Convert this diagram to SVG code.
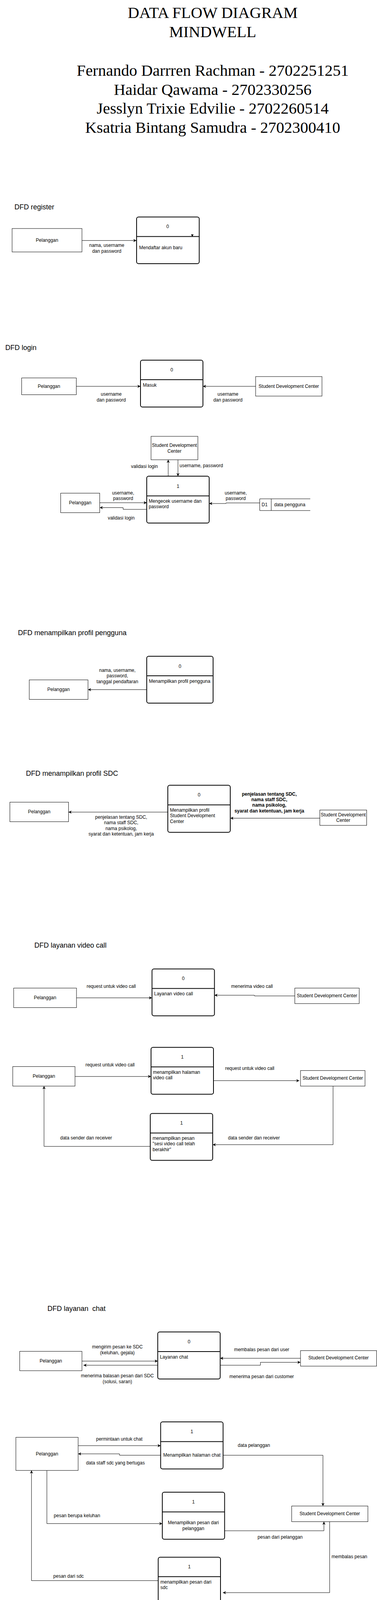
<svg xmlns="http://www.w3.org/2000/svg" width="966" height="5922" viewBox="0 0 966 5922">
<style>
text{font-family:"Liberation Sans",Arial,Helvetica,sans-serif;font-size:12px;fill:#000}
.c{text-anchor:middle}
.b{font-weight:bold}
.ttl{font-size:18px}
.hd{font-family:"Liberation Serif","Times New Roman",serif;font-size:41px;text-anchor:middle}
.ent{fill:#fff;stroke:#000;stroke-width:1}
.proc{fill:#fff;stroke:#000;stroke-width:2}
.dv{stroke:#000;stroke-width:2;fill:none}
.st{fill:none;stroke:#000;stroke-width:1}
.ln{fill:none;stroke:#000;stroke-width:1;marker-end:url(#ah)}
.lnb{fill:none;stroke:#000;stroke-width:1.6;marker-end:url(#ah)}
</style>
<defs>
<marker id="ah" viewBox="0 0 10 10" refX="10" refY="5" markerWidth="8" markerHeight="8" markerUnits="userSpaceOnUse" orient="auto">
<path d="M0,0 L10,5 L0,10 L3,5 z" fill="#000"/>
</marker>
</defs>
<rect width="966" height="5922" fill="#fff"/>

<g id="header">
<text class="hd" x="545" y="46">DATA FLOW DIAGRAM</text>
<text class="hd" x="545" y="95">MINDWELL</text>
<text class="hd" x="545" y="194">Fernando Darrren Rachman - 2702251251</text>
<text class="hd" x="545" y="243">Haidar Qawama - 2702330256</text>
<text class="hd" x="545" y="291">Jesslyn Trixie Edvilie - 2702260514</text>
<text class="hd" x="545" y="340">Ksatria Bintang Samudra - 2702300410</text>
</g>

<g id="titles">
<text class="ttl" x="37" y="536">DFD register</text>
<text class="ttl" x="13.5" y="896">DFD login</text>
<text class="ttl" x="46" y="1625.5">DFD menampilkan profil pengguna</text>
<text class="ttl" x="66.5" y="1985.7">DFD menampilkan profil SDC</text>
<text class="ttl" x="88" y="2426">DFD layanan video call</text>
<text class="ttl" x="121.4" y="3355.8" xml:space="preserve">DFD layanan  chat</text>
<text class="ttl" x="67" y="4480">DFD mencatat perasaan harian</text>
<text class="ttl" x="29" y="4779.5">DFD menampilkan grafik perasaan harian</text>
<text class="ttl" x="84.4" y="5089.7">DFD mencatat jam tidur harian</text>
<text class="ttl" x="24.6" y="5466.3">DFD menampilkan grafik jam tidur harian</text>
<text class="ttl" x="46.2" y="5772">DFD meditasi</text>
</g>

<!-- register -->
<g id="reg-pelanggan"><rect class="ent" x="31" y="585" width="179" height="60"/><text class="c" x="120.5" y="619">Pelanggan</text></g>
<g id="reg-proc0"><rect class="proc" x="350" y="555.5" width="160.5" height="119.5" rx="5"/><line class="dv" x1="350" y1="605.5" x2="510.5" y2="605.5"/><text class="c" x="429.5" y="584">0</text><text x="356.5" y="638">Mendaftar akun baru</text><path d="M489.5,600 L496,600 L492.7,606 z" fill="#000"/></g>

<!-- login -->
<g id="login-pelanggan"><rect class="ent" x="55.5" y="967.5" width="140" height="43"/><text class="c" x="125.5" y="993">Pelanggan</text></g>
<g id="login-proc0"><rect class="proc" x="360" y="922" width="160" height="120" rx="5"/><line class="dv" x1="360" y1="972" x2="520" y2="972"/><text class="c" x="440" y="951">0</text><text x="366" y="990">Masuk</text></g>
<g id="login-sdc"><rect class="ent" x="655" y="964" width="170" height="50"/><text class="c" x="740" y="993">Student Development Center</text></g>
<g id="login1-sdc"><rect class="ent" x="387" y="1117" width="120" height="60"/><text class="c" x="447" y="1144">Student Development</text><text class="c" x="447" y="1158.5">Center</text></g>
<g id="login1-proc1"><rect class="proc" x="376" y="1219" width="160" height="120" rx="5"/><line class="dv" x1="376" y1="1269.5" x2="536" y2="1269.5"/><text class="c" x="456" y="1249">1</text><text x="381" y="1286.5">Mengecek username dan</text><text x="381" y="1301">password</text></g>
<g id="login1-pelanggan"><rect class="ent" x="155.5" y="1262.5" width="100" height="50"/><text class="c" x="205.5" y="1290.5">Pelanggan</text></g>
<g id="login1-d1"><path class="st" d="M795,1277 L665.5,1277 L665.5,1307 L795,1307 M695,1277 L695,1307"/><text class="c" x="678" y="1295.5">D1</text><text x="702.4" y="1295.5">data pengguna</text></g>

<!-- profil pengguna -->
<g id="pp-proc0"><rect class="proc" x="376" y="1680" width="170" height="120" rx="5"/><line class="dv" x1="376" y1="1730" x2="546" y2="1730"/><text class="c" x="461" y="1709.5">0</text><text x="381.5" y="1748">Menampilkan profil pengguna</text></g>
<g id="pp-pelanggan"><rect class="ent" x="75" y="1740.5" width="150.5" height="50"/><text class="c" x="150" y="1768.7">Pelanggan</text></g>

<!-- profil SDC -->
<g id="ps-proc0"><rect class="proc" x="430" y="2010.3" width="160" height="120.5" rx="5"/><line class="dv" x1="430" y1="2060.5" x2="590" y2="2060.5"/><text class="c" x="510" y="2039">0</text><text x="435.6" y="2077.7">Menampilkan profil</text><text x="435.6" y="2092">Student Development</text><text x="435.6" y="2106.7">Center</text></g>
<g id="ps-pelanggan"><rect class="ent" x="25.3" y="2053.6" width="150.3" height="50"/><text class="c" x="100.5" y="2082">Pelanggan</text></g>
<g id="ps-sdc"><rect class="ent" x="819.5" y="2073.7" width="120" height="39.3"/><text class="c" x="879.5" y="2089.7">Student Development</text><text class="c" x="879.5" y="2104.4">Center</text></g>

<!-- video call -->
<g id="vc-proc0"><rect class="proc" x="389.5" y="2480.4" width="160" height="120" rx="5"/><line class="dv" x1="389.5" y1="2530.4" x2="549.5" y2="2530.4"/><text class="c" x="469.5" y="2509.4">0</text><text x="395" y="2547.8">Layanan video call</text></g>
<g id="vc-pelanggan"><rect class="ent" x="35" y="2529.5" width="161" height="50"/><text class="c" x="115.5" y="2558">Pelanggan</text></g>
<g id="vc-sdc"><rect class="ent" x="755.4" y="2529.5" width="165" height="39.7"/><text class="c" x="838" y="2552.7">Student Development Center</text></g>
<g id="vc1-proc1"><rect class="proc" x="387" y="2681.3" width="160" height="120" rx="5"/><line class="dv" x1="387" y1="2731.3" x2="547" y2="2731.3"/><text class="c" x="467" y="2710">1</text><text x="392" y="2749">menampilkan halaman</text><text x="392" y="2763">video call</text></g>
<g id="vc1-pelanggan"><rect class="ent" x="32.7" y="2730.4" width="159.5" height="50"/><text class="c" x="112.5" y="2759">Pelanggan</text></g>
<g id="vc1-sdc"><rect class="ent" x="770" y="2740.6" width="165.3" height="39.8"/><text class="c" x="852.7" y="2763.8">Student Development Center</text></g>
<g id="vc1-proc1b"><rect class="proc" x="385" y="2850.4" width="160" height="120" rx="5"/><line class="dv" x1="385" y1="2900.4" x2="545" y2="2900.4"/><text class="c" x="465" y="2879">1</text><text x="391" y="2918.3">menampilkan pesan</text><text x="391" y="2932">"sesi video call telah</text><text x="391" y="2946.9">berakhir"</text></g>

<!-- chat -->
<g id="ch-proc0"><rect class="proc" x="404.2" y="3409.8" width="160" height="120.5" rx="5"/><line class="dv" x1="404.2" y1="3460" x2="564.2" y2="3460"/><text class="c" x="484.3" y="3438.8">0</text><text x="409.7" y="3478">Layanan chat</text></g>
<g id="ch-pelanggan"><rect class="ent" x="50.5" y="3459.4" width="159.5" height="49.6"/><text class="c" x="130.3" y="3487.5">Pelanggan</text></g>
<g id="ch-sdc"><rect class="ent" x="770" y="3457.6" width="195" height="39.7"/><text class="c" x="867.5" y="3480.3">Student Development Center</text></g>
<g id="ch1-proc1a"><rect class="proc" x="411.6" y="3640" width="160" height="120.5" rx="5"/><line class="dv" x1="411.6" y1="3690.5" x2="571.6" y2="3690.5"/><text class="c" x="491.6" y="3669.2">1</text><text class="c" x="491.6" y="3728.6">Menampilkan halaman chat</text></g>
<g id="ch1-pelanggan"><rect class="ent" x="40.7" y="3679.5" width="159.5" height="84.8"/><text class="c" x="120.5" y="3726">Pelanggan</text></g>
<g id="ch1-sdc"><rect class="ent" x="747.4" y="3855.4" width="195.3" height="40.1"/><text class="c" x="845" y="3879">Student Development Center</text></g>
<g id="ch1-proc1b"><rect class="proc" x="415.9" y="3820" width="159.6" height="120.6" rx="5"/><line class="dv" x1="415.9" y1="3870.5" x2="575.5" y2="3870.5"/><text class="c" x="495.7" y="3849">1</text><text class="c" x="495.4" y="3901.8">Menampilkan pesan dari</text><text class="c" x="495.4" y="3917">pelanggan</text></g>
<g id="ch1-proc1c"><rect class="proc" x="405.4" y="3986.6" width="159.6" height="120.1" rx="5"/><line class="dv" x1="405.4" y1="4036.2" x2="565" y2="4036.2"/><text class="c" x="485.2" y="4015.2">1</text><text x="411" y="4054">menampilkan pesan dari</text><text x="411" y="4067.8">sdc</text></g>

<!-- mencatat perasaan -->
<g id="mp-proc0"><rect class="proc" x="430" y="4513.8" width="160.3" height="120.6" rx="5"/><line class="dv" x1="430" y1="4564.3" x2="590.3" y2="4564.3"/><text class="c" x="510" y="4543.3">0</text><text x="435.6" y="4582">Mencatat perasaan harian</text></g>
<g id="mp-pelanggan"><rect class="ent" x="25.3" y="4556.25" width="160.2" height="50"/><text class="c" x="105.4" y="4584.8">Pelanggan</text></g>
<g id="mp-d2"><path class="st" d="M943,4559.4 L788.7,4559.4 L788.7,4589.3 L943,4589.3 M818.2,4559.4 L818.2,4589.3"/><text class="c" x="801" y="4578">D2</text><text x="825" y="4578">mood tracker</text></g>

<!-- grafik perasaan -->
<g id="gp-proc0"><rect class="proc" x="385.7" y="4804.5" width="160.2" height="120" rx="5"/><line class="dv" x1="385.7" y1="4854.5" x2="545.9" y2="4854.5"/><text class="c" x="465.8" y="4833.5">0</text><text x="391" y="4872.3">Menampilkan grafik</text><text x="391" y="4886">kesehatan mental</text></g>
<g id="gp-pelanggan"><rect class="ent" x="40.7" y="4854.5" width="159.5" height="50"/><text class="c" x="120.5" y="4883">Pelanggan</text></g>

<!-- jam tidur -->
<g id="jt-proc0"><rect class="proc" x="375.8" y="5143.75" width="159.6" height="120.95" rx="5"/><line class="dv" x1="375.8" y1="5194.2" x2="535.4" y2="5194.2"/><text class="c" x="455.6" y="5173.2">0</text><text x="381.4" y="5212">Mencatat jam tidur harian</text></g>
<g id="jt-pelanggan"><rect class="ent" x="25.3" y="5204.5" width="160.2" height="49.1"/><text class="c" x="105.4" y="5231.7">Pelanggan</text></g>
<g id="jt-d3"><path class="st" d="M839.8,5213.4 L690.7,5213.4 L690.7,5243.3 L839.8,5243.3 M720.9,5213.4 L720.9,5243.3"/><text class="c" x="703.5" y="5232">D3</text><text x="727" y="5232">sleep tracker</text></g>

<!-- grafik jam tidur -->
<g id="gj-proc0"><rect class="proc" x="340.7" y="5493.9" width="159.6" height="121" rx="5"/><line class="dv" x1="340.7" y1="5543.9" x2="500.3" y2="5543.9"/><text class="c" x="420.5" y="5522.9">0</text><text class="c" x="398.6" y="5561.7">Menampilkan grafik</text><text class="c" x="398.6" y="5576">jam tidur</text></g>
<g id="gj-pelanggan"><rect class="ent" x="10.5" y="5544.3" width="144.8" height="50"/><text class="c" x="82.9" y="5572.9">Pelanggan</text></g>

<!-- meditasi -->
<g id="md-pelanggan"><rect class="ent" x="30.8" y="5836.3" width="159.6" height="50"/><text class="c" x="110.6" y="5864.8">Pelanggan</text></g>
<g id="md-proc0a"><rect class="proc" x="370.3" y="5801" width="160.2" height="119.5" rx="5"/><line class="dv" x1="370.3" y1="5851.5" x2="530.5" y2="5851.5"/><text class="c" x="450.4" y="5830">0</text><text x="376.5" y="5868.9">Pilih jenis meditasi</text><text x="376.5" y="5882.7">untuk perasaan hari ini</text></g>
<g id="md-proc0b"><rect class="proc" x="720.9" y="5801" width="159.6" height="119.5" rx="5"/><line class="dv" x1="720.9" y1="5851.5" x2="880.5" y2="5851.5"/><text class="c" x="800.7" y="5830">0</text><text x="725.8" y="5868.9">Menampilkan saran meditasi</text><text x="725.8" y="5882.7">sesuai jenis perasaan</text></g>

<g id="connectors">
<!-- register -->
<path class="ln" d="M210,615.7 L349.5,615.7"/>
<text class="c" x="273.5" y="632.3">nama, username</text><text class="c" x="273.5" y="647.3">dan password</text>
<!-- login -->
<path class="ln" d="M195.5,989 L360,989"/>
<text class="c" x="285" y="1013">username</text><text class="c" x="285" y="1028">dan password</text>
<path class="ln" d="M655,989 L520,989"/>
<text class="c" x="584" y="1013">username</text><text class="c" x="584" y="1028">dan password</text>
<path class="ln" d="M431,1219 L431,1177"/>
<text class="c" x="370" y="1198">validasi login</text>
<path class="ln" d="M456,1177 L456,1219"/>
<text x="460" y="1195.5">username, password</text>
<path class="ln" d="M255.5,1287 L376,1287"/>
<text class="c" x="315.5" y="1265.6">username,</text><text class="c" x="315.5" y="1280.3">password</text>
<path class="ln" d="M376,1304 L315.5,1304 L315.5,1299.5 L255.5,1299.5"/>
<text class="c" x="310.5" y="1330">validasi login</text>
<path class="ln" d="M665.5,1287.5 L579,1287.5 L579,1289 L536,1289"/>
<text class="c" x="604" y="1265.6">username,</text><text class="c" x="604" y="1280.3">password</text>
<!-- profil pengguna -->
<path class="ln" d="M376,1765.5 L225.5,1765.5"/>
<text class="c" x="300.7" y="1720">nama, username,</text><text class="c" x="300.7" y="1734.4">password,</text><text class="c" x="300.7" y="1748.6">tanggal pendaftaran</text>
<!-- profil SDC -->
<path class="ln" d="M430,2079 L175.6,2079"/>
<text class="c" x="310.5" y="2096">penjelasan tentang SDC,</text><text class="c" x="310.5" y="2109.8">nama staff SDC,</text><text class="c" x="310.5" y="2125">nama psikolog,</text><text class="c" x="310.5" y="2138.8">syarat dan ketentuan, jam kerja</text>
<path class="ln" d="M819.5,2094.6 L590.3,2094.6"/>
<text class="c b" x="690" y="2036.6">penjelasan tentang SDC,</text><text class="c b" x="690" y="2050.9">nama staff SDC,</text><text class="c b" x="690" y="2065.2">nama psikolog,</text><text class="c b" x="690" y="2079.9">syarat dan ketentuan, jam kerja</text>
<!-- video call -->
<path class="ln" d="M196,2554.5 L389.5,2554.5"/>
<text class="c" x="285" y="2529">request untuk video call</text>
<path class="ln" d="M755.4,2549.6 L652,2549.6 L652,2547.8 L549.5,2547.8"/>
<text class="c" x="645.7" y="2529">menerima video call</text>
<path class="ln" d="M192.2,2755.8 L387,2755.8"/>
<text class="c" x="282" y="2730">request untuk video call</text>
<path class="ln" d="M547,2766.5 L767,2766.5"/>
<text class="c" x="640" y="2738.8">request untuk video call</text>
<path class="ln" d="M853.4,2780.4 L853.4,2930.4 L545,2930.4"/>
<text class="c" x="650.6" y="2917">data sender dan receiver</text>
<path class="ln" d="M385,2934.8 L112.8,2934.8 L112.8,2780.4"/>
<text class="c" x="220.6" y="2917">data sender dan receiver</text>
<!-- chat -->
<path class="ln" d="M210,3484.4 L404.2,3484.4"/>
<text class="c" x="300.7" y="3451.8">mengirim pesan ke SDC</text><text class="c" x="300.7" y="3467">(keluhan, gejala)</text>
<path class="ln" d="M404.2,3495 L214,3495"/>
<text class="c" x="300.7" y="3525.9">menerima balasan pesan dari SDC</text><text class="c" x="300.7" y="3540.6">(solusi, saran)</text>
<path class="ln" d="M770,3477.2 L564.2,3477.2"/>
<text class="c" x="670.4" y="3458.5">membalas pesan dari user</text>
<path class="ln" d="M564.2,3495 L667.3,3495 L667.3,3487.5 L770,3487.5"/>
<text class="c" x="670.4" y="3527.7">menerima pesan dari customer</text>
<path class="ln" d="M200.2,3700.9 L411.6,3700.9"/>
<text class="c" x="305.6" y="3688.4">permintaan untuk chat</text>
<path class="ln" d="M411.6,3725.4 L306.2,3725.4 L306.2,3721.9 L200.2,3721.9"/>
<text class="c" x="295.7" y="3749">data staff sdc yang bertugas</text>
<path class="ln" d="M571.6,3725.4 L827.5,3725.4 L827.5,3855.4"/>
<text class="c" x="650.6" y="3704">data pelanggan</text>
<path class="ln" d="M120.1,3764.3 L120.1,3900.4 L415.9,3900.4"/>
<text class="c" x="197.2" y="3884">pesan berupa keluhan</text>
<path class="ln" d="M575.5,3918.8 L830,3918.8 L830,3895.5"/>
<text class="c" x="717.8" y="3938.8">pesan dari pelanggan</text>
<path class="ln" d="M844.7,3895.5 L844.7,4077.2 L571,4077.2"/>
<text class="c" x="895.3" y="3988.8">membalas pesan</text>
<path class="ln" d="M405.4,4046.4 L80.7,4046.4 L80.7,3764.3"/>
<text class="c" x="175.6" y="4038.8">pesan dari sdc</text>
<!-- mencatat perasaan -->
<path class="ln" d="M185.5,4581.7 L430,4581.7"/>
<text class="c" x="300" y="4567">perasaan setiap hari</text>
<path class="ln" d="M590.3,4574.5 L788.7,4574.5"/>
<text class="c" x="682.7" y="4563">perasaan setiap hari</text>
<!-- grafik perasaan -->
<path class="ln" d="M385.7,4889.7 L200.2,4889.7"/>
<text class="c" x="295.7" y="4861">perasaan setiap hari</text><text class="c" x="295.7" y="4875.9">dalam bentuk grafik</text>
<!-- jam tidur -->
<path class="ln" d="M185.5,5229 L375.8,5229"/>
<text class="c" x="295.7" y="5211">jam tidur setiap hari</text>
<path class="ln" d="M535.4,5229.5 L616,5229.5 L616,5228.6 L690.7,5228.6"/>
<text class="c" x="625.4" y="5263.8">jam tidur setiap hari</text>
<!-- grafik jam tidur -->
<path class="ln" d="M340.7,5579.6 L155.3,5579.6"/>
<text class="c" x="245.2" y="5551">jam tidur setiap hari dalam</text><text class="c" x="245.2" y="5565.7">bentuk grafik</text>
<!-- meditasi -->
<path class="ln" d="M370.3,5849.2 L190.4,5849.2"/>
<text class="c" x="280.3" y="5830">saran meditasi</text>
<path class="lnb" d="M190.4,5861.7 L364,5861.7"/>
<text class="c" x="265" y="5892" style="font-size:16px">Perasaan</text>
<path class="ln" d="M720.9,5861.3 L610.6,5861.3 L610.6,5868.9 L530.5,5868.9"/>
<text class="c" x="600" y="5850.6">saran meditasi</text>
<path class="lnb" d="M530.5,5886.3 L720.9,5886.3"/>
<text class="c" x="605" y="5904.6">pilihan pengguna</text>
</g>
</svg>
